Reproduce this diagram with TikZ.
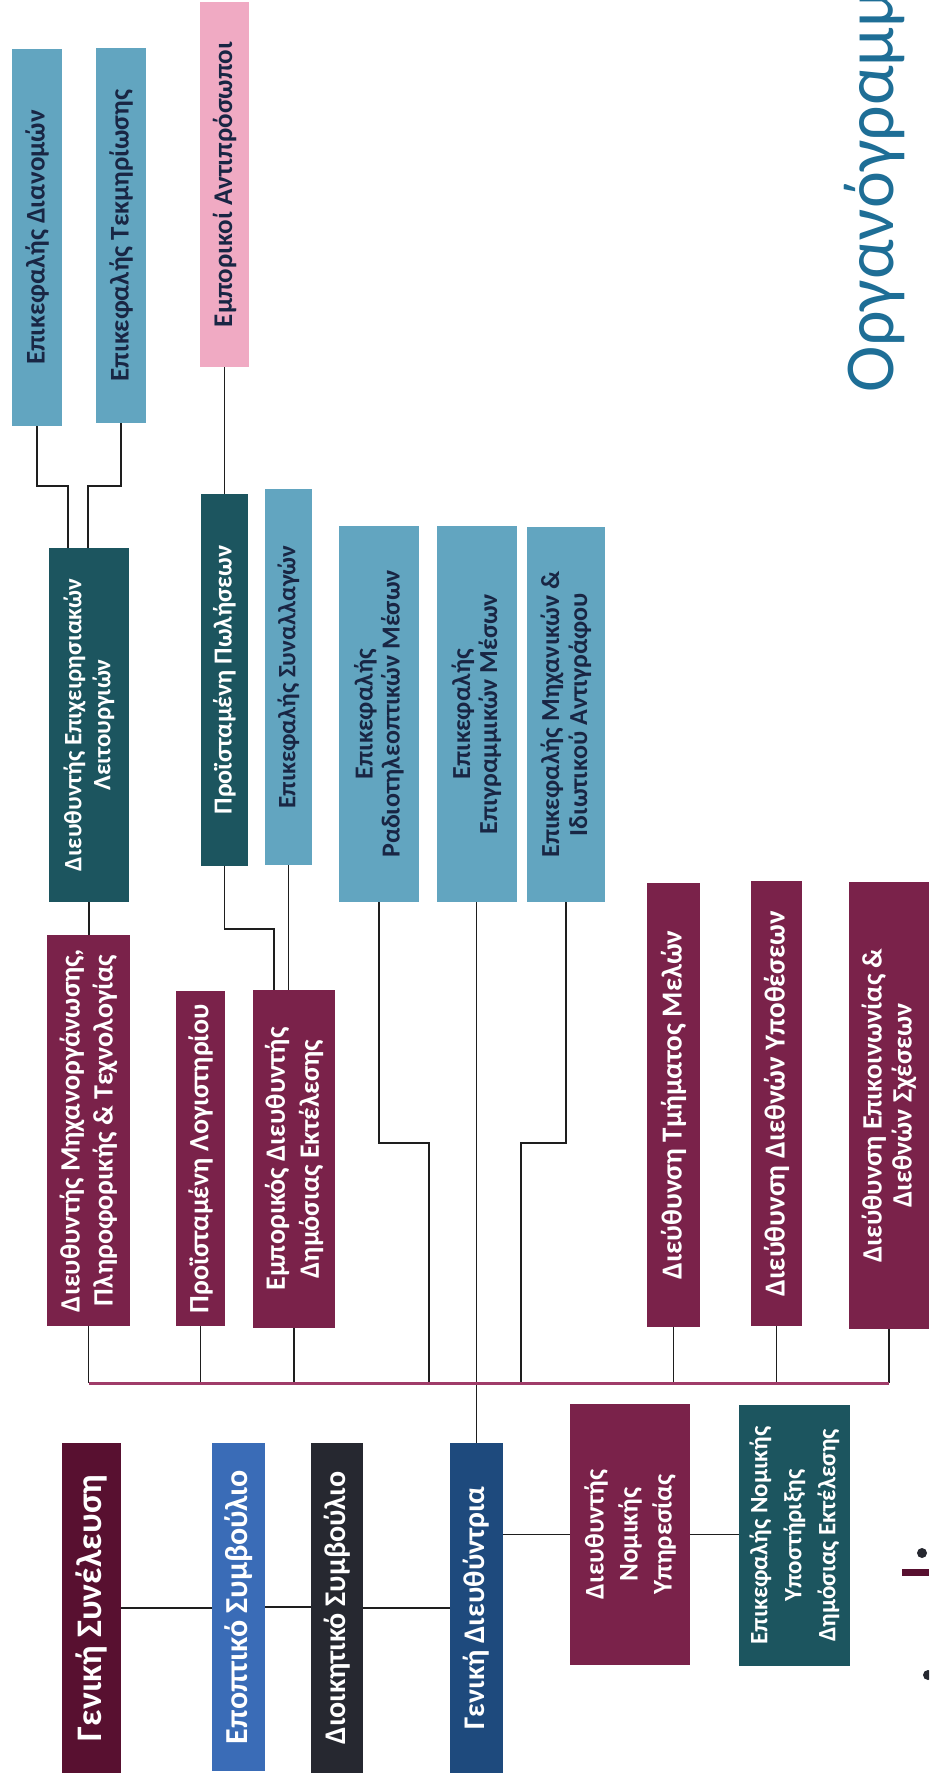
\documentclass[tikz,border=0pt]{standalone}
\usepackage{fontspec}
\setmainfont{Carlito}
\definecolor{gsred}{RGB}{88,16,48}
\definecolor{epblue}{RGB}{58,108,183}
\definecolor{diogray}{RGB}{38,40,48}
\definecolor{gdblue}{RGB}{30,74,125}
\definecolor{maroonbox}{RGB}{122,34,74}
\definecolor{tealbox}{RGB}{28,85,95}
\definecolor{lbluebox}{RGB}{98,165,192}
\definecolor{pinkbox}{RGB}{240,170,195}
\definecolor{navytext}{RGB}{25,38,68}
\definecolor{linec}{RGB}{30,30,30}
\definecolor{busc}{RGB}{160,60,105}
\definecolor{titleblue}{RGB}{30,110,150}
\tikzset{
  bx/.style={rotate=90, inner sep=0pt, align=center},
  wt/.style={bx, text=white},
  dk/.style={bx, text=navytext},
  ln/.style={draw=linec, line width=1.4pt},
  busline/.style={draw=busc, line width=3pt},
}
\newcommand{\fs}[2]{\bfseries\fontsize{#1}{#2}\selectfont}
\begin{document}
\begin{tikzpicture}[x=1pt,y=-1pt]
\useasboundingbox (0,0) rectangle (929,1783);
\clip (0,0) rectangle (929,1783);
\fill[white] (0,0) rectangle (929,1783);

% title
\node[rotate=90, anchor=base west, inner sep=0pt, text=titleblue, font=\fontsize{70}{70}\selectfont] (title) at (893,393) {Οργανόγραμμα};

% logo fragments
\fill[diogray] (922,1553) circle[radius=5pt];
\fill[gsred] (902,1569) rectangle (929,1576);
\fill[diogray] (928,1675) circle[radius=5pt];

% left column
\node[wt, fill=gsred, minimum width=330pt, minimum height=59pt, font=\fs{36}{40}] (gs) at (91.5,1608) {Γενική Συνέλευση};
\node[wt, fill=epblue, minimum width=328pt, minimum height=53pt, font=\fs{32}{36}] (ep) at (238.5,1607) {Εποπτικό Συμβούλιο};
\node[wt, fill=diogray, minimum width=330pt, minimum height=52pt, font=\fs{30}{34}] (dio) at (337,1608) {Διοικητικό Συμβούλιο};
\node[wt, fill=gdblue, minimum width=330pt, minimum height=53pt, font=\fs{30}{34}] (gd) at (476.5,1608) {Γενική Διευθύντρια};
\node[wt, fill=maroonbox, minimum width=261pt, minimum height=120pt, font=\fs{27}{34}] (nom) at (630,1534.5) {Διευθυντής\\Νομικής\\Υπηρεσίας};
\node[wt, fill=tealbox, minimum width=261pt, minimum height=111pt, font=\fs{25}{34}] (enom) at (794.5,1535.5) {Επικεφαλής Νομικής\\Υποστήριξης\\Δημόσιας Εκτέλεσης};

% row of maroon boxes
\node[wt, fill=maroonbox, minimum width=391pt, minimum height=83pt, font=\fs{28}{33}] (dmix) at (88.5,1130.5) {Διευθυντής Μηχανοργάνωσης,\\Πληροφορικής \& Τεχνολογίας};
\node[wt, fill=maroonbox, minimum width=335pt, minimum height=49pt, font=\fs{28}{32}] (plog) at (200.5,1158.5) {Προϊσταμένη Λογιστηρίου};
\node[wt, fill=maroonbox, minimum width=338pt, minimum height=82pt, font=\fs{28}{34}] (emp) at (294,1159) {Εμπορικός Διευθυντής\\Δημόσιας Εκτέλεσης};
\node[wt, fill=maroonbox, minimum width=444pt, minimum height=53pt, font=\fs{29}{33}] (tm) at (673.5,1105) {Διεύθυνση Τμήματος Μελών};
\node[wt, fill=maroonbox, minimum width=445pt, minimum height=51pt, font=\fs{29}{33}] (ddy) at (776.5,1103.5) {Διεύθυνση Διεθνών Υποθέσεων};
\node[wt, fill=maroonbox, minimum width=447pt, minimum height=80pt, font=\fs{28}{30}] (epik) at (889,1105.5) {Διεύθυνση Επικοινωνίας \&\\Διεθνών Σχέσεων};

% upper boxes
\node[wt, fill=tealbox, minimum width=354pt, minimum height=80pt, font=\fs{25}{29}] (dep) at (89,725) {Διευθυντής Επιχειρησιακών\\Λειτουργιών};
\node[wt, fill=tealbox, minimum width=372pt, minimum height=47pt, font=\fs{26}{30}] (pol) at (224.5,680) {Προϊσταμένη Πωλήσεων};
\node[dk, fill=lbluebox, minimum width=376pt, minimum height=47pt, font=\fs{25}{29}] (syn) at (288.5,677) {Επικεφαλής Συναλλαγών};
\node[dk, fill=lbluebox, minimum width=376pt, minimum height=80pt, font=\fs{26}{27}] (radio) at (379,714) {Επικεφαλής\\Ραδιοτηλεοπτικών Μέσων};
\node[dk, fill=lbluebox, minimum width=376pt, minimum height=80pt, font=\fs{26}{27}] (ent) at (476.5,714) {Επικεφαλής\\Επιγραμμικών Μέσων};
\node[dk, fill=lbluebox, minimum width=375pt, minimum height=78pt, font=\fs{26}{28}] (mix) at (566,714.5) {Επικεφαλής Μηχανικών \&\\Ιδιωτικού Αντιγράφου};
\node[dk, fill=lbluebox, minimum width=377pt, minimum height=50pt, font=\fs{27}{30}] (dian) at (37,237.5) {Επικεφαλής Διανομών};
\node[dk, fill=lbluebox, minimum width=375pt, minimum height=50pt, font=\fs{27}{30}] (tek) at (121,235.5) {Επικεφαλής Τεκμηρίωσης};
\node[dk, fill=pinkbox, minimum width=365pt, minimum height=49pt, font=\fs{27}{30}] (emant) at (224.5,184.5) {Εμπορικοί Αντιπρόσωποι};

% connectors, left column
\draw[ln] (gs.south) -- (gs.south -| ep.north);
\draw[ln] (ep.south) -- (ep.south -| dio.north);
\draw[ln] (dio.south) -- (dio.south -| gd.north);
\draw[ln] (gd.south |- nom.north) -- (nom.north);
\draw[ln] (nom.south) -- (nom.south -| enom.north);

% bus and drops
\coordinate (busL) at (88.5,1383);
\coordinate (busR) at (889,1383);
\coordinate (rj) at (429,1143);
\coordinate (mj) at (521,1143);
\draw[ln] (dmix.west) -- (dmix.west |- busL);
\draw[ln] (plog.west) -- (plog.west |- busL);
\draw[ln] (emp.west) -- (emp.west |- busL);
\draw[ln] (tm.west) -- (tm.west |- busL);
\draw[ln] (ddy.west) -- (ddy.west |- busL);
\draw[ln] (epik.west) -- (epik.west |- busL);
\draw[ln] (radio.west) |- (rj) -- (rj |- busL);
\draw[ln] (mix.west) |- (mj) -- (mj |- busL);
\draw[ln] (ent.west) -- (gd.east);
\draw[busline] (busL) -- (busR);

% upper connectors
\coordinate (d1) at (68,486);
\coordinate (t1) at (88,486);
\coordinate (p1) at (274,929);
\draw[ln] (dep.west) -- (dep.west |- dmix.east);
\draw[ln] (dian.west) |- (d1) -- (d1 |- dep.east);
\draw[ln] (tek.west) |- (t1) -- (t1 |- dep.east);
\draw[ln] (emant.west) -- (pol.east);
\draw[ln] (pol.west) |- (p1) -- (p1 |- emp.east);
\draw[ln] (syn.west) -- (syn.west |- emp.east);
\end{tikzpicture}
\end{document}
